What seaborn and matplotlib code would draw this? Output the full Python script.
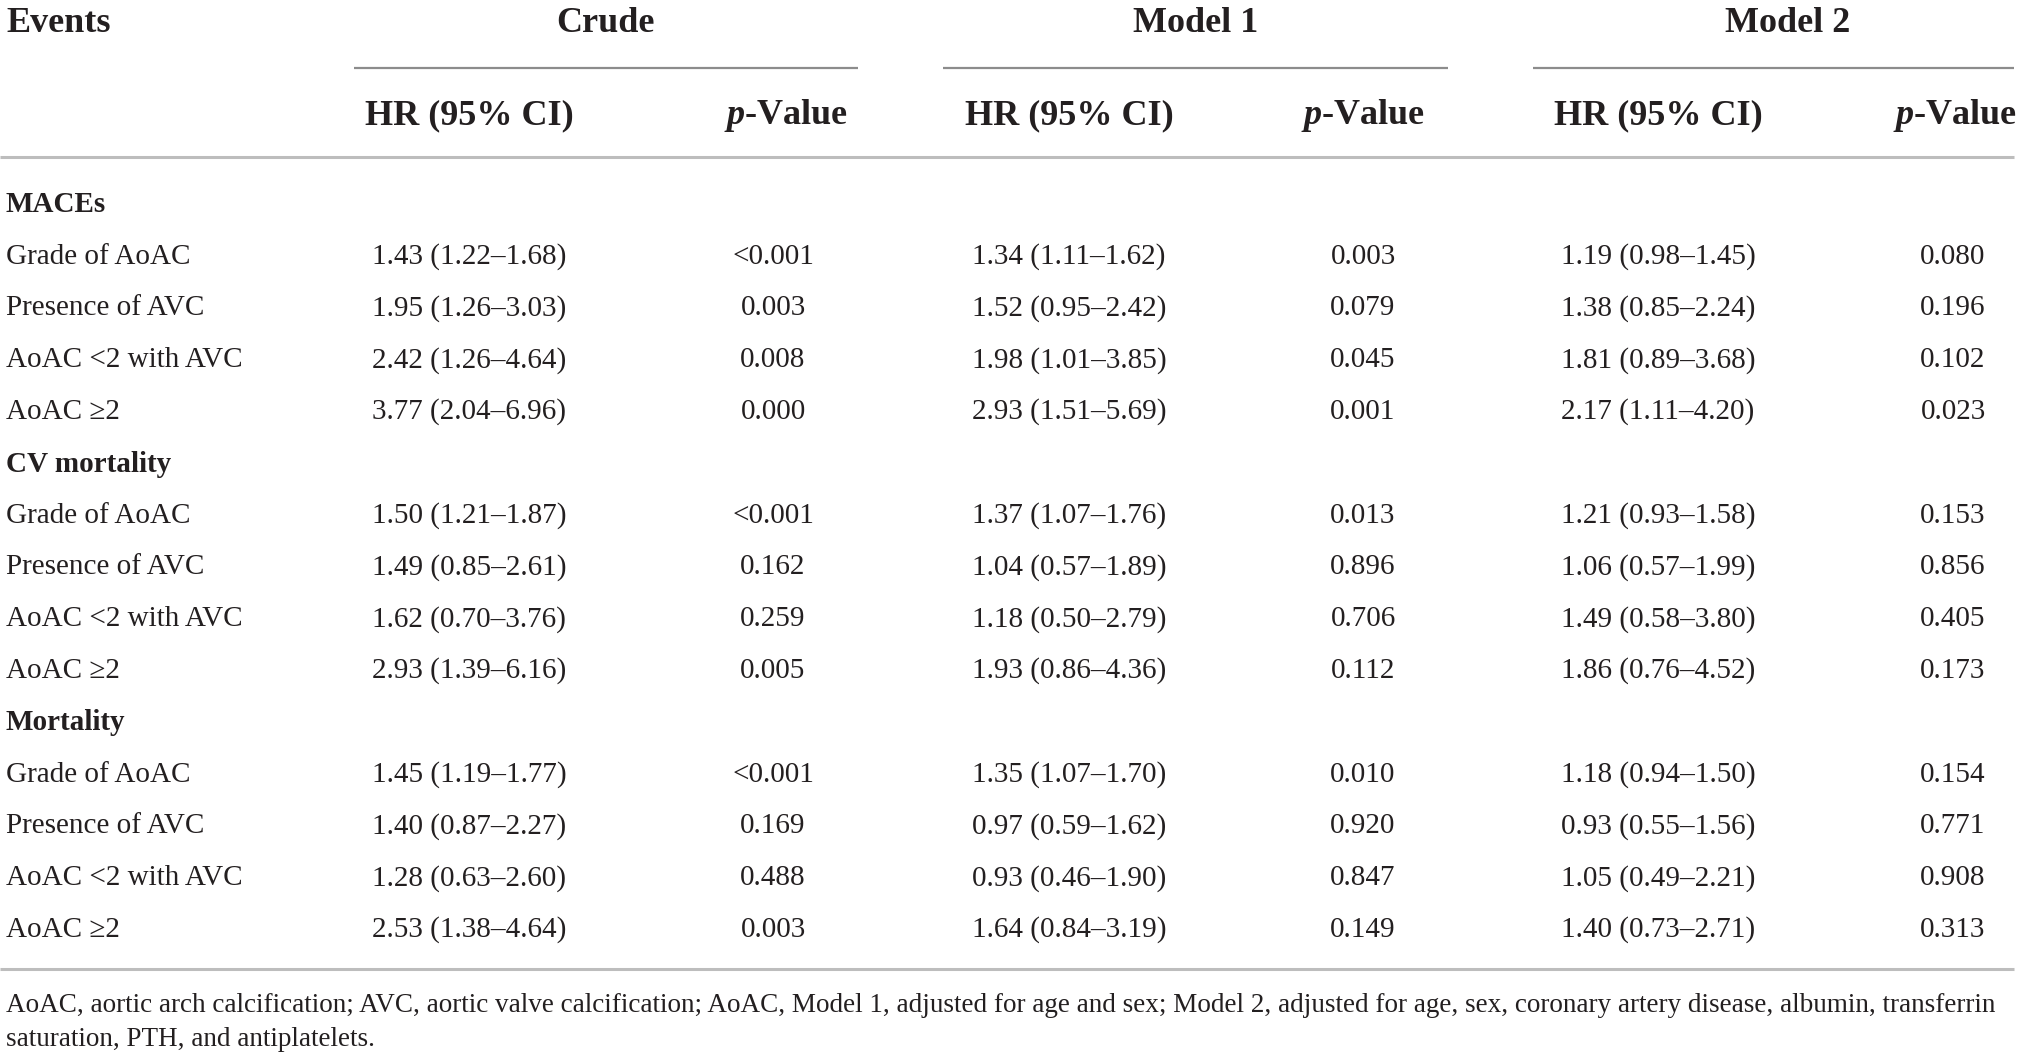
import matplotlib
matplotlib.use("Agg")
import matplotlib.pyplot as plt
import seaborn as sns

# table content
models = ["Crude", "Model 1", "Model 2"]
sections = ["MACEs", "CV mortality", "Mortality"]
row_labels = ["Grade of AoAC", "Presence of AVC", "AoAC <2 with AVC", "AoAC \u22652"]

hr_crude = ["1.43 (1.22\u20131.68)", "1.95 (1.26\u20133.03)", "2.42 (1.26\u20134.64)", "3.77 (2.04\u20136.96)",
            "1.50 (1.21\u20131.87)", "1.49 (0.85\u20132.61)", "1.62 (0.70\u20133.76)", "2.93 (1.39\u20136.16)",
            "1.45 (1.19\u20131.77)", "1.40 (0.87\u20132.27)", "1.28 (0.63\u20132.60)", "2.53 (1.38\u20134.64)"]
p_crude = ["<0.001", "0.003", "0.008", "0.000",
           "<0.001", "0.162", "0.259", "0.005",
           "<0.001", "0.169", "0.488", "0.003"]
hr_model1 = ["1.34 (1.11\u20131.62)", "1.52 (0.95\u20132.42)", "1.98 (1.01\u20133.85)", "2.93 (1.51\u20135.69)",
             "1.37 (1.07\u20131.76)", "1.04 (0.57\u20131.89)", "1.18 (0.50\u20132.79)", "1.93 (0.86\u20134.36)",
             "1.35 (1.07\u20131.70)", "0.97 (0.59\u20131.62)", "0.93 (0.46\u20131.90)", "1.64 (0.84\u20133.19)"]
p_model1 = ["0.003", "0.079", "0.045", "0.001",
            "0.013", "0.896", "0.706", "0.112",
            "0.010", "0.920", "0.847", "0.149"]
hr_model2 = ["1.19 (0.98\u20131.45)", "1.38 (0.85\u20132.24)", "1.81 (0.89\u20133.68)", "2.17 (1.11\u20134.20)",
             "1.21 (0.93\u20131.58)", "1.06 (0.57\u20131.99)", "1.49 (0.58\u20133.80)", "1.86 (0.76\u20134.52)",
             "1.18 (0.94\u20131.50)", "0.93 (0.55\u20131.56)", "1.05 (0.49\u20132.21)", "1.40 (0.73\u20132.71)"]
p_model2 = ["0.080", "0.196", "0.102", "0.023",
            "0.153", "0.856", "0.405", "0.173",
            "0.154", "0.771", "0.908", "0.313"]

footnote = ["AoAC, aortic arch calcification; AVC, aortic valve calcification; AoAC, Model 1, adjusted for age and sex; "
            "Model 2, adjusted for age, sex, coronary artery disease, albumin, transferrin",
            "saturation, PTH, and antiplatelets."]

sns.set_theme(style="white")
plt.rcParams['font.family'] = ['Liberation Serif', 'DejaVu Serif']
plt.rcParams['mathtext.fontset'] = 'custom'
plt.rcParams['mathtext.it'] = 'Liberation Serif:italic:bold'
plt.rcParams['mathtext.rm'] = 'Liberation Serif:bold'

W, H = 2019, 1059
fig = plt.figure(figsize=(W / 100, H / 100), dpi=100)
ax = fig.add_axes([0, 0, 1, 1])
ax.set_xlim(0, W)
ax.set_ylim(H, 0)
ax.axis("off")

fs = 21
fs_head = 26
text_col = "#231f20"

# layout (pixel units)
hr_x = [469, 1069, 1658]
p_x = [773, 1363, 1953]
p_head_x = [786, 1363, 1955]
group_x = [605, 1196, 1788]
group_spans = [(354, 858), (943, 1448), (1533, 2014)]

ax.text(6, 24, "Events", fontsize=fs_head, fontweight="bold", va="center", ha="left", color=text_col)
for name, gx, (x0, x1) in zip(models, group_x, group_spans):
    ax.text(gx, 24, name, fontsize=fs_head, fontweight="bold", va="center", ha="center", color=text_col)
    ax.plot([x0, x1], [68, 68], color="#8c8c8c", lw=1.6, solid_capstyle="butt")
for hx, px in zip(hr_x, p_head_x):
    ax.text(hx, 116, "HR (95% CI)", fontsize=fs_head, fontweight="bold", va="center", ha="center", color=text_col)
    ax.text(px, 116, r"$p$-Value", fontsize=fs_head, fontweight="bold", va="center", ha="center", color=text_col)
ax.plot([0, 2014], [157, 157], color="#bdbdbd", lw=2.2, solid_capstyle="butt")

section_y = [205, 464, 723]
row_step = 51.7
cols = [(hr_crude, p_crude), (hr_model1, p_model1), (hr_model2, p_model2)]
for s, (sec, sy) in enumerate(zip(sections, section_y)):
    ax.text(6, sy, sec, fontsize=fs, fontweight="bold", va="center", ha="left", color=text_col)
    for r, lab in enumerate(row_labels):
        y = sy + row_step * (r + 1)
        i = s * len(row_labels) + r
        ax.text(6, y, lab, fontsize=fs, va="center", ha="left", color=text_col)
        for (hr, pv), hx, px in zip(cols, hr_x, p_x):
            ax.text(hx, y, hr[i], fontsize=fs, va="center", ha="center", color=text_col)
            ax.text(px, y, pv[i], fontsize=fs, va="center", ha="center", color=text_col)

ax.plot([0, 2014], [969, 969], color="#bdbdbd", lw=2.2, solid_capstyle="butt")
for k, line in enumerate(footnote):
    ax.text(6, 1005 + 35 * k, line, fontsize=19.5, va="center", ha="left", color=text_col)

fig.savefig("out.png", dpi=100, facecolor="white")
